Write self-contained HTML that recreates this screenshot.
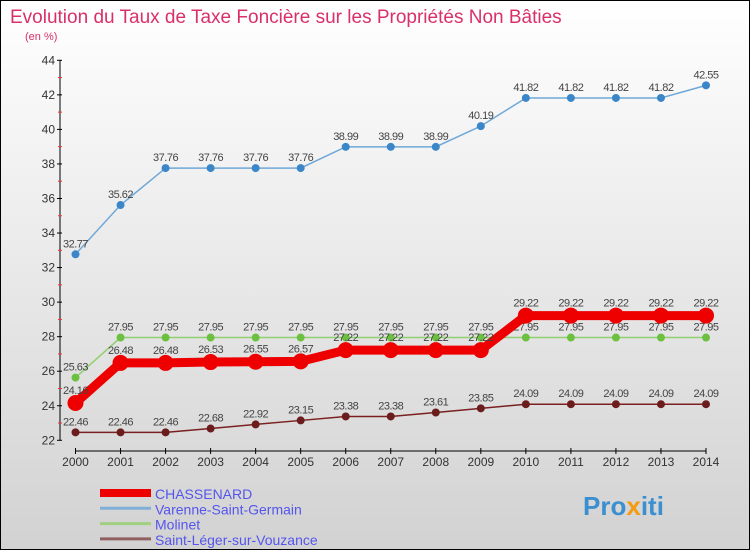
<!DOCTYPE html>
<html><head><meta charset="utf-8"><style>
body{margin:0;width:750px;height:550px;overflow:hidden;font-family:"Liberation Sans",sans-serif}
#c{position:absolute;left:0;top:0;width:748px;height:548px;border:1px solid #000;background:linear-gradient(#fff,#d2d2d2)}
</style></head><body>
<div id="c"></div>
<svg id="s" width="750" height="550" style="position:absolute;left:0;top:0">
<text x="10" y="23" font-size="19" fill="#d9306b">Evolution du Taux de Taxe Foncière sur les Propriétés Non Bâties</text>
<text x="25" y="40" font-size="11" fill="#d9306b">(en %)</text>
<g id="axes"></g><g id="series"></g><g id="legend"></g>
<text x="583" y="515" font-size="26" font-weight="bold" fill="#3a8fd0">Pro<tspan fill="#f39c12">x</tspan>iti</text>
</svg>
<script>
const years=[2000,2001,2002,2003,2004,2005,2006,2007,2008,2009,2010,2011,2012,2013,2014];
const yTicks=[22,24,26,28,30,32,34,36,38,40,42,44];
const chassenard=[24.16,26.48,26.48,26.53,26.55,26.57,27.22,27.22,27.22,27.22,29.22,29.22,29.22,29.22,29.22];
const varenne=[32.77,35.62,37.76,37.76,37.76,37.76,38.99,38.99,38.99,40.19,41.82,41.82,41.82,41.82,42.55];
const molinet=[25.63,27.95,27.95,27.95,27.95,27.95,27.95,27.95,27.95,27.95,27.95,27.95,27.95,27.95,27.95];
const saintleger=[22.46,22.46,22.46,22.68,22.92,23.15,23.38,23.38,23.61,23.85,24.09,24.09,24.09,24.09,24.09];
const names=["CHASSENARD","Varenne-Saint-Germain","Molinet","Saint-Léger-sur-Vouzance"];
const NS="http://www.w3.org/2000/svg";
const X=i=>75.5+i*(706-75.5)/(years.length-1);
const Y=v=>440.3-(v-22)*(380/22);
function mk(p,t,a){const e=document.createElementNS(NS,t);for(const k in a)e.setAttribute(k,a[k]);p.appendChild(e);return e;}
const ax=document.getElementById('axes');
let l=mk(ax,'line',{x1:60,y1:Y(44),x2:60,y2:Y(22),stroke:'#000'});

yTicks.forEach(v=>{mk(ax,'line',{x1:57,x2:62,y1:Y(v),y2:Y(v),stroke:'#000'});
 mk(ax,'line',{x1:58,x2:62,y1:Y(v+1),y2:Y(v+1),stroke:v<44?'#e33':'none'});
 const t=mk(ax,'text',{x:55,y:Y(v)+4,'font-size':12,'text-anchor':'end',fill:'#333'});t.textContent=v;
 });
l=mk(ax,'line',{x1:X(0),x2:X(years.length-1),y1:451,y2:451,stroke:'#000'});

years.forEach((y,i)=>{mk(ax,'line',{x1:X(i),x2:X(i),y1:448,y2:454,stroke:'#000'});
 const t=mk(ax,'text',{x:X(i),y:466,'font-size':12,'text-anchor':'middle',fill:'#333'});t.textContent=y;
 });
const sg=document.getElementById('series');
const cfg=[[saintleger,'#7a2020','#6b1c1c',1.5,4,names[3]],[molinet,'#90d070','#6cc040',1.5,4,names[2]],[varenne,'#6fa8d8','#3a86c8',1.5,4,names[1]],[chassenard,'#ee0000','#ee0000',9,8,names[0]]];
cfg.forEach(([d,lc,pc,w,r,n])=>{const g=mk(sg,'g',{});
 
 mk(g,'polyline',{points:d.map((v,i)=>X(i)+','+Y(v)).join(' '),fill:'none',stroke:lc,'stroke-width':w});
 d.forEach((v,i)=>{const c=mk(g,'circle',{cx:X(i),cy:Y(v),r:r,fill:pc});
  
  const t=mk(g,'text',{x:X(i),y:Y(v)-(w>5?9:7),'font-size':11,'text-anchor':'middle',fill:'#444','letter-spacing':'-0.5'});t.textContent=v.toFixed(2);
  });});
const lg=document.getElementById('legend');
const lcol=['#ee0000','#80b0d8','#a0d080','#906060'],lw=[8,3,3,3];
names.forEach((n,i)=>{const y=493+i*15.3;const g=mk(lg,'g',{});
 
 mk(g,'line',{x1:100,x2:151,y1:y,y2:y,stroke:lcol[i],'stroke-width':lw[i]});
 const t=mk(g,'text',{x:155,y:y+6,'font-size':14,fill:'#5555ee'});t.textContent=n;});
</script>
</body></html>
